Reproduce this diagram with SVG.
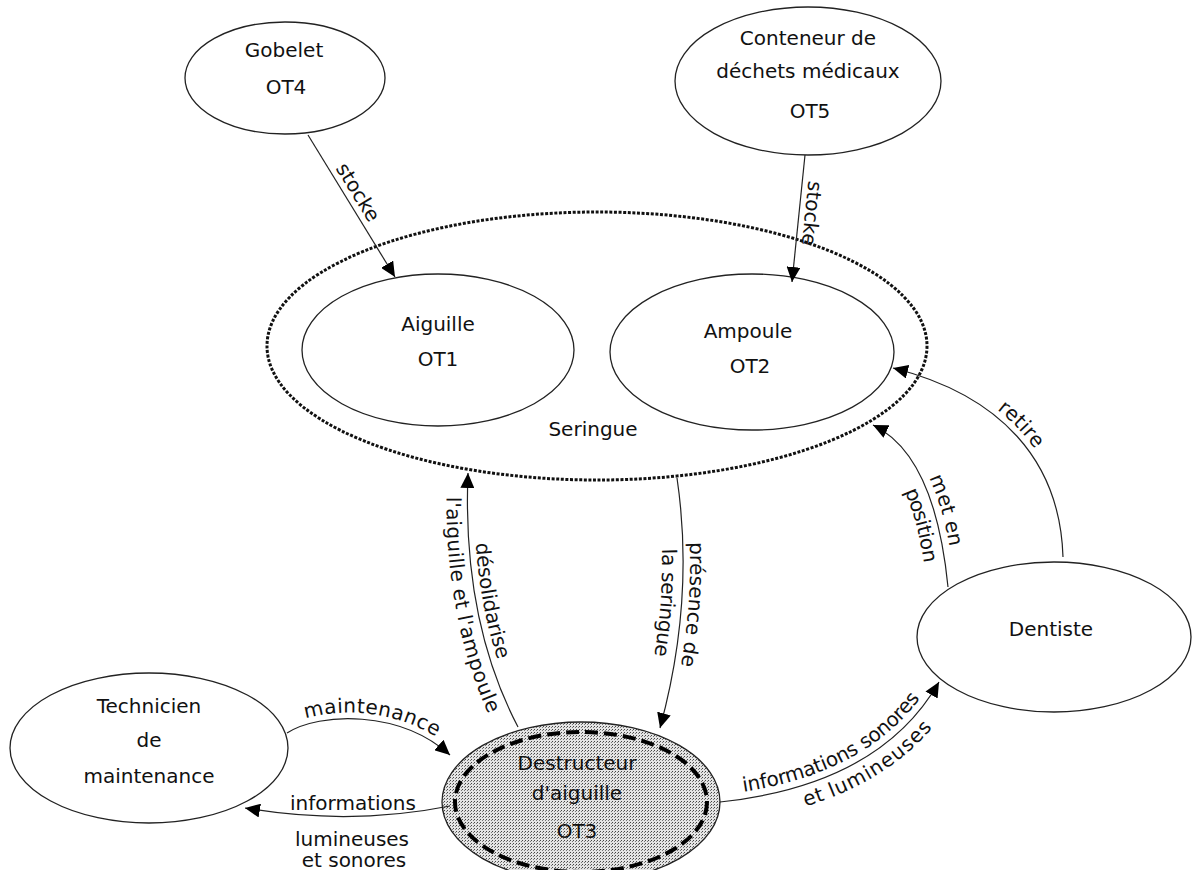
<svg xmlns="http://www.w3.org/2000/svg" width="1194" height="870" viewBox="0 0 1194 870">
<style>
.node{fill:none;stroke:#222;stroke-width:1.3}
.lbl{font-family:"DejaVu Sans","Liberation Sans",sans-serif;font-size:20px;fill:#111;text-anchor:middle}
.edge{fill:none;stroke:#222;stroke-width:1.2}
</style>
<defs>
<marker id="arr" markerUnits="userSpaceOnUse" markerWidth="16" markerHeight="14" refX="15" refY="7" orient="auto">
<path d="M0,0 L15,7 L0,14 z" fill="#000"/>
</marker>
<pattern id="stip" width="3" height="3" patternUnits="userSpaceOnUse">
<rect width="3" height="3" fill="#e4e4e4"/>
<rect x="0" y="0" width="1" height="1" fill="#444"/>
<rect x="2" y="1" width="1" height="1" fill="#777"/>
</pattern>
<path id="tp1" d="M308,135 L395,277"/>
<path id="tp2" d="M805,155 L792,282"/>
<path id="tp3" d="M468,473 Q462,620 518,727"/>
<path id="tp4" d="M677,478 Q695,600 660,728"/>
<path id="tp5" d="M873,425 Q935,455 948,587"/>
<path id="tp6" d="M893,368 C1000,395 1060,460 1063,557"/>
<path id="tp7" d="M287,733 C320,712 400,710 450,755"/>
<path id="tp9" d="M720,802 Q880,785 939,682"/>
</defs>
<rect width="1194" height="870" fill="#fff"/>

<g id="seringue">
<ellipse cx="597" cy="346" rx="330" ry="134" fill="none" stroke="#111" stroke-width="3" stroke-dasharray="3 1.6"/>
<text class="lbl" x="593" y="436">Seringue</text>
</g>
<g id="gobelet">
<ellipse class="node" cx="285" cy="78" rx="100" ry="56"/>
<text class="lbl" x="284" y="57">Gobelet</text>
<text class="lbl" x="286" y="94">OT4</text>
</g>
<g id="conteneur">
<ellipse class="node" cx="808" cy="81" rx="133" ry="74"/>
<text class="lbl" x="808" y="45">Conteneur de</text>
<text class="lbl" x="808" y="78">déchets médicaux</text>
<text class="lbl" x="810" y="118">OT5</text>
</g>
<g id="aiguille">
<ellipse class="node" cx="438" cy="350" rx="136" ry="76"/>
<text class="lbl" x="438" y="331">Aiguille</text>
<text class="lbl" x="438" y="366">OT1</text>
</g>
<g id="ampoule">
<ellipse class="node" cx="752" cy="352" rx="142" ry="78"/>
<text class="lbl" x="748" y="338">Ampoule</text>
<text class="lbl" x="750" y="373">OT2</text>
</g>
<g id="technicien">
<ellipse class="node" cx="149" cy="748" rx="139" ry="75"/>
<text class="lbl" x="149" y="713">Technicien</text>
<text class="lbl" x="149" y="747">de</text>
<text class="lbl" x="149" y="783">maintenance</text>
</g>
<g id="destructeur">
<ellipse cx="581" cy="802" rx="139" ry="80" fill="url(#stip)" stroke="#222" stroke-width="1.3"/>
<ellipse cx="581" cy="802" rx="126" ry="70" fill="none" stroke="#000" stroke-width="4" stroke-dasharray="13 6"/>
<text class="lbl" x="577" y="770">Destructeur</text>
<text class="lbl" x="577" y="800">d'aiguille</text>
<text class="lbl" x="577" y="838">OT3</text>
</g>
<g id="dentiste">
<ellipse class="node" cx="1054" cy="637" rx="137" ry="75"/>
<text class="lbl" x="1051" y="636">Dentiste</text>
</g>

<g id="connectors">
<path class="edge" d="M308,135 L395,277" marker-end="url(#arr)"/>
<path class="edge" d="M805,155 L792,282" marker-end="url(#arr)"/>
<path class="edge" d="M518,727 Q462,620 468,473" marker-end="url(#arr)"/>
<path class="edge" d="M677,478 Q695,600 660,728" marker-end="url(#arr)"/>
<path class="edge" d="M948,587 Q935,455 873,425" marker-end="url(#arr)"/>
<path class="edge" d="M1063,557 C1060,460 1000,395 893,368" marker-end="url(#arr)"/>
<path class="edge" d="M287,733 C320,712 400,710 450,755" marker-end="url(#arr)"/>
<path class="edge" d="M450,806 Q350,826 245,808" marker-end="url(#arr)"/>
<path class="edge" d="M720,802 Q880,785 939,682" marker-end="url(#arr)"/>

<text class="lbl"><textPath href="#tp1" startOffset="45%"><tspan dy="-6">stocke</tspan></textPath></text>
<text class="lbl"><textPath href="#tp2" startOffset="45%"><tspan dy="-6">stocke</tspan></textPath></text>
<text class="lbl"><textPath href="#tp3" startOffset="50%"><tspan dy="-7">désolidarise</tspan></textPath></text>
<text class="lbl"><textPath href="#tp3" startOffset="50%"><tspan dy="21">l'aiguille et l'ampoule</tspan></textPath></text>
<text class="lbl"><textPath href="#tp4" startOffset="50%"><tspan dy="-7">présence de</tspan></textPath></text>
<text class="lbl"><textPath href="#tp4" startOffset="50%"><tspan dy="21">la seringue</tspan></textPath></text>
<text class="lbl"><textPath href="#tp5" startOffset="60%"><tspan dy="-7">met en</tspan></textPath></text>
<text class="lbl"><textPath href="#tp5" startOffset="64%"><tspan dy="21">position</tspan></textPath></text>
<text class="lbl"><textPath href="#tp6" startOffset="50%"><tspan dy="-6">retire</tspan></textPath></text>
<text class="lbl"><textPath href="#tp7" startOffset="50%"><tspan dy="-6">maintenance</tspan></textPath></text>
<text class="lbl"><textPath href="#tp9" startOffset="50%"><tspan dy="-7">informations sonores</tspan></textPath></text>
<text class="lbl"><textPath href="#tp9" startOffset="58%"><tspan dy="21">et lumineuses</tspan></textPath></text>
<text class="lbl" x="353" y="810">informations</text>
<text class="lbl" x="352" y="846">lumineuses</text>
<text class="lbl" x="354" y="867">et sonores</text>
</g>
</svg>
